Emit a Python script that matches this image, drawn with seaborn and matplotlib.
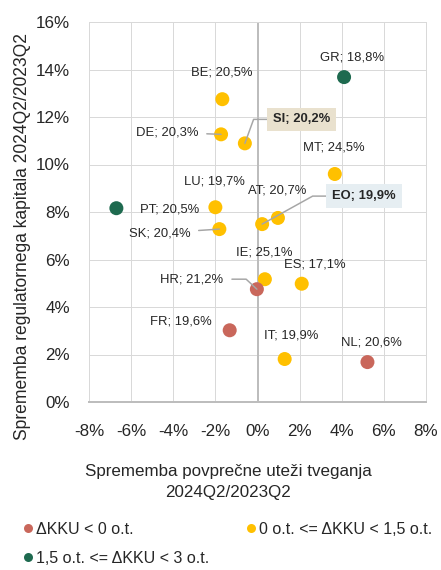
import matplotlib.pyplot as plt
from matplotlib.lines import Line2D
from matplotlib.ticker import FuncFormatter
import pandas as pd
import seaborn as sns

# data (change in %, both axes)
countries = ['BE', 'DE', 'SI', 'GR', 'MT', 'LU', 'AT', 'EO',
             'PT', 'SK', 'IE', 'HR', 'ES', 'FR', 'IT', 'NL']
rw_change = [-1.67, -1.73, -0.60, 4.11, 3.67, -2.00, 0.97, 0.22,
             -6.70, -1.81, 0.35, -0.03, 2.10, -1.32, 1.29, 5.22]
cap_change = [12.75, 11.27, 10.89, 13.68, 9.60, 8.20, 7.75, 7.49,
              8.16, 7.28, 5.17, 4.75, 4.98, 3.02, 1.81, 1.68]
cap_ratio = ['20,5%', '20,3%', '20,2%', '18,8%', '24,5%', '19,7%', '20,7%', '19,9%',
             '20,5%', '20,4%', '25,1%', '21,2%', '17,1%', '19,6%', '19,9%', '20,6%']
group = ['mid', 'mid', 'mid', 'high', 'mid', 'mid', 'mid', 'mid',
         'high', 'mid', 'mid', 'neg', 'mid', 'neg', 'mid', 'neg']

group_names = {'neg': 'ΔKKU < 0 o.t.',
               'mid': '0 o.t. <= ΔKKU < 1,5 o.t.',
               'high': '1,5 o.t. <= ΔKKU < 3 o.t.'}
palette = {'neg': '#C9675B', 'mid': '#FFC000', 'high': '#1E6A4F'}

# label offsets in pixels (dx, dy up) - fig is at 72 dpi so px == pt
offsets = {'BE': (-1, 27), 'DE': (-54, 2), 'SI': (57, 24), 'GR': (8, 20),
           'MT': (-1, 27), 'LU': (-1, 26), 'AT': (-1, 27), 'EO': (102, 28),
           'PT': (53, -1), 'SK': (-60, -4), 'IE': (-1, 27), 'HR': (-65, 10),
           'ES': (13, 19), 'FR': (-49, 9), 'IT': (7, 24), 'NL': (4, 20)}
leaders = {'DE': 'arc3', 'SK': 'arc3',
           'SI': 'angle,angleA=0,angleB=70,rad=0',
           'EO': 'angle,angleA=0,angleB=29,rad=0',
           'HR': 'angle,angleA=0,angleB=137,rad=0'}
boxes = {'SI': '#E9E1CE', 'EO': '#E6EEF2'}

df = pd.DataFrame({'country': countries, 'rw': rw_change, 'cap': cap_change,
                   'ratio': cap_ratio, 'grp': group})

sns.set_theme(style='white')
plt.rcParams['font.family'] = ['Liberation Sans', 'DejaVu Sans']
txt = '#262626'

fig = plt.figure(figsize=(441 / 72, 570 / 72), dpi=72)
ax = fig.add_axes([89 / 441, 1 - 402 / 570, (426 - 89) / 441, (402 - 22) / 570])

ax.axvline(0, color='#BDBDBD', lw=2, zorder=1.5)
sns.scatterplot(data=df, x='rw', y='cap', hue='grp', palette=palette, s=196,
                edgecolor='none', linewidth=0, legend=False, ax=ax, zorder=2)

for _, r in df.iterrows():
    c = r['country']
    kw = dict(xy=(r['rw'], r['cap']), xytext=offsets[c], textcoords='offset points',
              ha='center', va='center', fontsize=13, color=txt, zorder=4)
    if c in boxes:
        kw['fontweight'] = 'bold'
        kw['bbox'] = dict(boxstyle='square,pad=0.45', fc=boxes[c], ec='none')
    if c in leaders:
        kw['arrowprops'] = dict(arrowstyle='-', color='#A6A6A6', lw=1.5,
                                shrinkA=6 if c not in boxes else 0, shrinkB=0,
                                connectionstyle=leaders[c])
    ax.annotate(f"{c}; {r['ratio']}", **kw)

ax.set_xlim(-8, 8)
ax.set_ylim(0, 16)
ax.set_xticks(range(-8, 9, 2))
ax.set_yticks(range(0, 17, 2))
pct = FuncFormatter(lambda v, p: f"{v:.0f}%")
ax.xaxis.set_major_formatter(pct)
ax.yaxis.set_major_formatter(pct)
ax.grid(True, color='#D9D9D9', lw=1)
ax.set_axisbelow(True)
for s in ax.spines.values():
    s.set_color('#D9D9D9')
    s.set_linewidth(1)
ax.spines['bottom'].set_color('#BDBDBD')
ax.spines['bottom'].set_linewidth(2)
ax.tick_params(axis='y', length=0, pad=19, labelsize=17, colors=txt)
ax.tick_params(axis='x', length=0, pad=22, labelsize=17, colors=txt)
ax.set_xlabel('')
ax.set_ylabel('')

fig.text(23 / 441, 1 - 237 / 570, 'Sprememba regulatornega kapitala 2024Q2/2023Q2',
         rotation=90, ha='center', va='center', fontsize=17.5, color=txt)
fig.text(228 / 441, 1 - 482 / 570, 'Sprememba povprečne uteži tveganja\n2024Q2/2023Q2',
         ha='center', va='center', fontsize=17, color=txt, linespacing=1.45)

order = ['neg', 'high', 'mid']
handles = [Line2D([], [], marker='o', ls='none', markersize=9,
                  markerfacecolor=palette[g], markeredgecolor='none') for g in order]
fig.legend(handles, [group_names[g] for g in order], ncol=2,
           loc='upper left', bbox_to_anchor=(23 / 441, 1 - 522 / 570),
           frameon=False, fontsize=16, handlelength=0.6, handletextpad=0.2,
           borderpad=0, borderaxespad=0, columnspacing=2.3, labelspacing=0.85,
           labelcolor=txt)

fig.savefig('out.png', dpi=72)
